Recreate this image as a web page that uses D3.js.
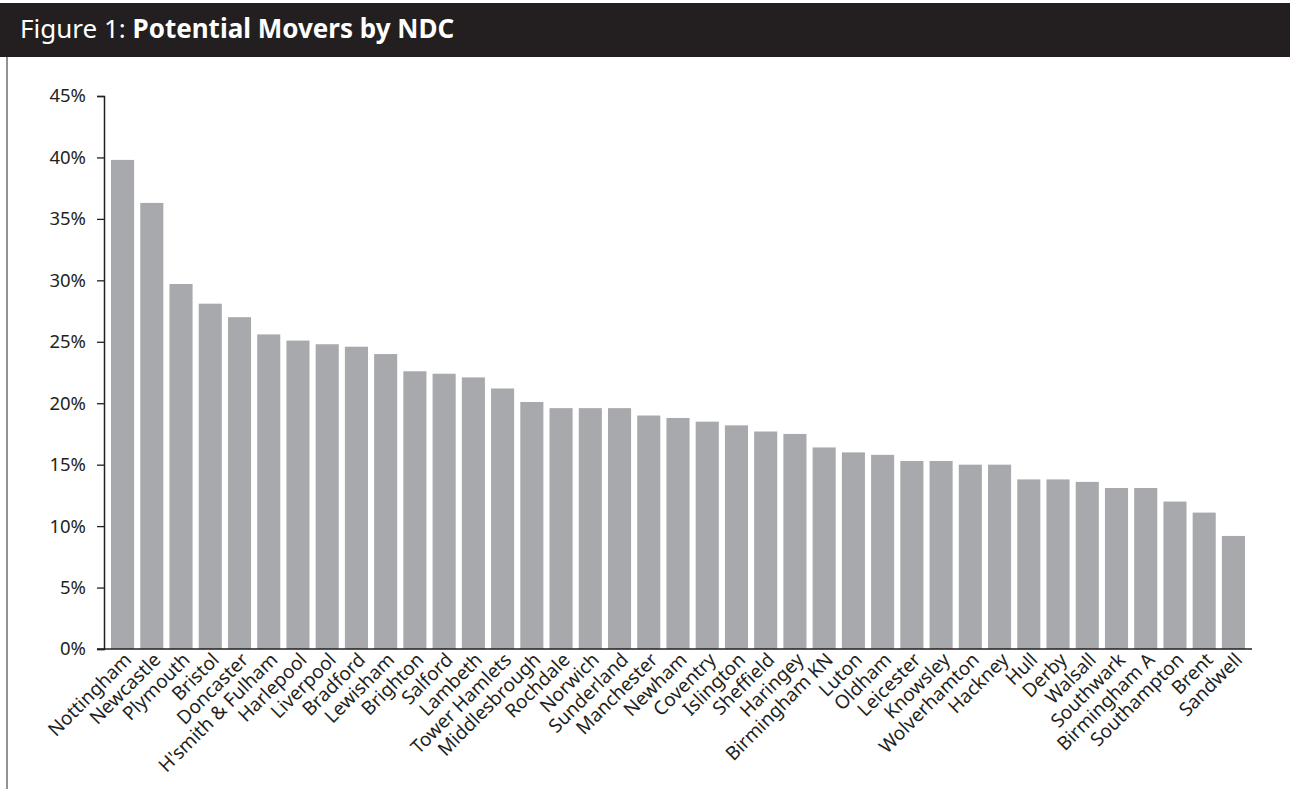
<!DOCTYPE html>
<html>
<head>
<meta charset="utf-8">
<script src="https://cdn.jsdelivr.net/npm/d3@7"></script>
<style>
  body { margin: 0; background: #fff; }
  svg { display: block; font-family: "Noto Sans", "Open Sans", sans-serif; }
</style>
</head>
<body>
<div id="chart"></div>
<script>
// NDC areas, sorted by share of potential movers
var areas = ["Nottingham", "Newcastle", "Plymouth", "Bristol", "Doncaster", "H'smith & Fulham",
  "Harlepool", "Liverpool", "Bradford", "Lewisham", "Brighton", "Salford", "Lambeth",
  "Tower Hamlets", "Middlesbrough", "Rochdale", "Norwich", "Sunderland", "Manchester",
  "Newham", "Coventry", "Islington", "Sheffield", "Haringey", "Birmingham KN", "Luton",
  "Oldham", "Leicester", "Knowsley", "Wolverhamton", "Hackney", "Hull", "Derby", "Walsall",
  "Southwark", "Birmingham A", "Southampton", "Brent", "Sandwell"];

var movers = [39.8, 36.3, 29.7, 28.1, 27.0, 25.6,
  25.1, 24.8, 24.6, 24.0, 22.6, 22.4, 22.1,
  21.2, 20.1, 19.6, 19.6, 19.6, 19.0,
  18.8, 18.5, 18.2, 17.7, 17.5, 16.4, 16.0,
  15.8, 15.3, 15.3, 15.0, 15.0, 13.8, 13.8, 13.6,
  13.1, 13.1, 12.0, 11.1, 9.2];

var yTicks = [0, 5, 10, 15, 20, 25, 30, 35, 40, 45];

var W = 1290, H = 789;

var svg = d3.select("#chart").append("svg")
    .attr("width", W)
    .attr("height", H);

// header bar
svg.append("rect")
    .attr("x", 0).attr("y", 3)
    .attr("width", W).attr("height", 54)
    .attr("fill", "#231f20");

var title = svg.append("text")
    .attr("x", 20).attr("y", 38)
    .attr("fill", "#fff")
    .attr("font-size", 26);
title.append("tspan").text("Figure 1: ");
title.append("tspan").attr("font-weight", "bold").text("Potential Movers by NDC");

// left frame line
svg.append("line")
    .attr("x1", 7).attr("x2", 7)
    .attr("y1", 57).attr("y2", H)
    .attr("stroke", "#6d6e71")
    .attr("stroke-width", 1.5);

// scales
var x = d3.scaleBand()
    .domain(areas)
    .range([104, 1252])
    .paddingInner(0.21)
    .paddingOuter(0.24);

var y = d3.scaleLinear()
    .domain([0, 45])
    .range([649, 96]);

// bars
svg.append("g")
    .selectAll("rect")
    .data(areas)
    .enter()
    .append("rect")
    .attr("x", function(d) { return x(d); })
    .attr("y", function(d, i) { return y(movers[i]); })
    .attr("width", x.bandwidth())
    .attr("height", function(d, i) { return y(0) - y(movers[i]); })
    .attr("fill", "#a7a9ac");

// y axis
var yAxis = svg.append("g")
    .attr("transform", "translate(104,0)")
    .call(d3.axisLeft(y).tickValues(yTicks).tickSize(7).tickPadding(11)
        .tickFormat(function(d) { return d + "%"; }));
yAxis.select(".domain").attr("stroke", "#231f20").attr("stroke-width", 1.5);
yAxis.selectAll(".tick line").attr("stroke", "#231f20").attr("stroke-width", 1.3);
yAxis.selectAll(".tick text")
    .attr("font-size", 18.5)
    .attr("font-family", "Noto Sans, Open Sans, sans-serif")
    .attr("fill", "#231f20");

// x axis line
svg.append("line")
    .attr("x1", 97).attr("x2", 1252)
    .attr("y1", y(0)).attr("y2", y(0))
    .attr("stroke", "#231f20")
    .attr("stroke-width", 1.5);

// rotated category labels
svg.append("g")
    .selectAll("text")
    .data(areas)
    .enter()
    .append("text")
    .attr("transform", function(d) {
        return "translate(" + (x(d) + x.bandwidth() / 2 + 10) + "," + (y(0) + 12) + ") rotate(-45)";
    })
    .attr("text-anchor", "end")
    .attr("font-size", 19)
    .attr("fill", "#231f20")
    .text(function(d) { return d; });
</script>
</body>
</html>
